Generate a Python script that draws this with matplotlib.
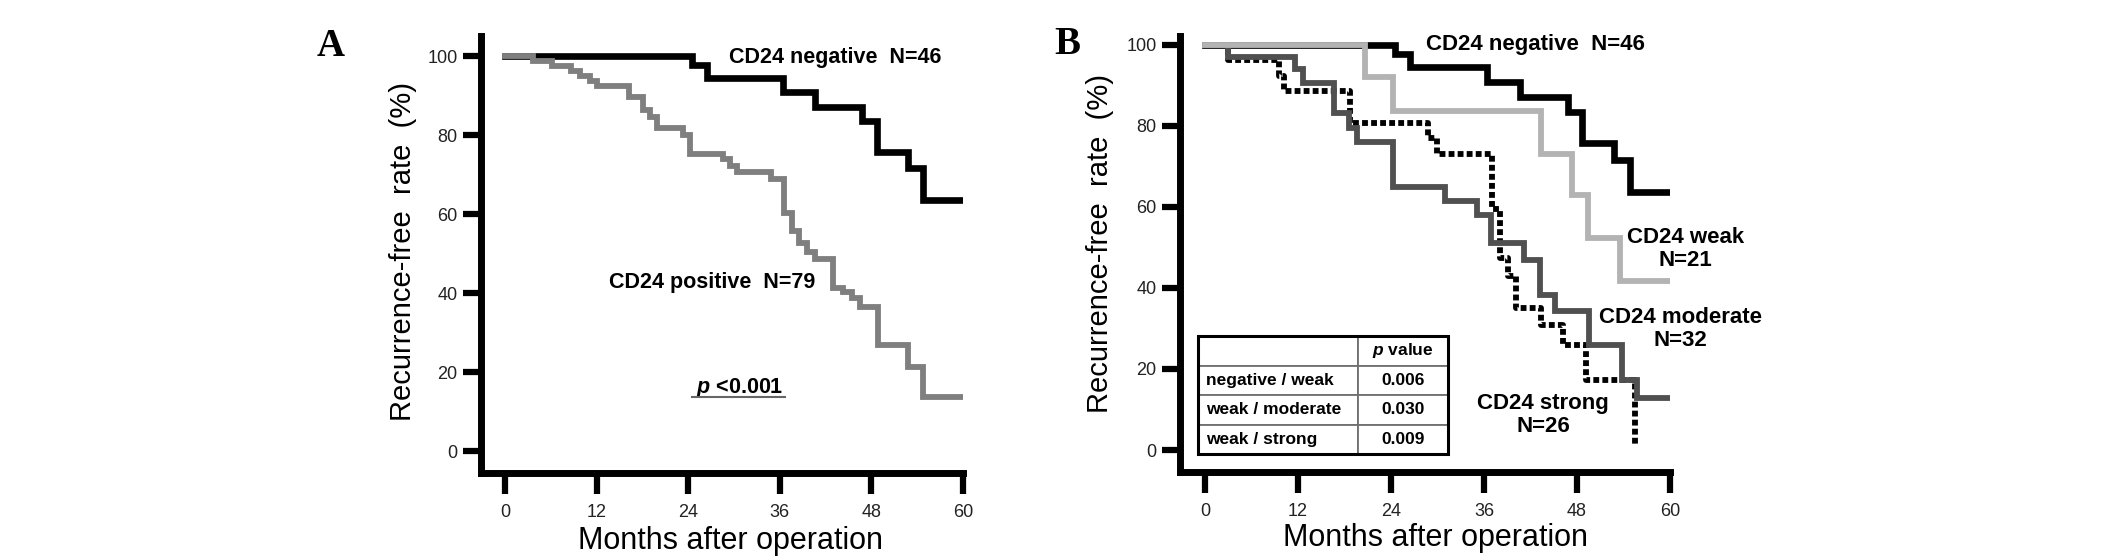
import numpy as np
import matplotlib as mpl
mpl.use('Agg')
import matplotlib.pyplot as plt
from matplotlib.lines import Line2D
from matplotlib.patches import Rectangle
from matplotlib.transforms import IdentityTransform

mpl.rcParams['font.family'] = 'Liberation Sans'
mpl.rcParams['mathtext.fontset'] = 'custom'
mpl.rcParams['mathtext.it'] = 'Liberation Sans:italic:bold'
mpl.rcParams['mathtext.rm'] = 'Liberation Sans:bold'
mpl.rcParams['mathtext.bf'] = 'Liberation Sans:bold'

# months after operation / recurrence-free rate (%)
neg_t = [0, 24.5, 26.5, 36.4, 40.6, 46.8, 48.7, 52.8, 54.8, 60]
neg_s = [100, 97.8, 94.5, 90.8, 87.2, 83.5, 75.8, 71.6, 63.6, 63.6]

pos_t = [0, 3.7, 6.1, 8.7, 9.8, 11.1, 12.0, 16.2, 18.1, 19.0, 19.9, 23.3,
         24.3, 28.6, 29.5, 30.4, 34.8, 36.5, 37.6, 38.5, 39.6, 40.6, 43.0,
         44.3, 45.4, 46.5, 48.9, 52.8, 54.8, 60]
pos_s = [100, 98.7, 97.5, 96.2, 94.9, 93.7, 92.4, 89.6, 86.3, 84.5, 81.9, 80.0,
         75.3, 74.0, 72.3, 70.6, 68.8, 60.2, 55.6, 52.6, 50.5, 48.5, 41.4,
         40.3, 38.7, 36.4, 26.8, 21.3, 13.6, 13.6]

weak_t = [0, 20.6, 24.2, 43.3, 47.4, 49.4, 53.5, 60]
weak_s = [100, 92.0, 83.8, 73.0, 63.0, 52.3, 41.8, 41.8]

mod_t = [0, 2.9, 11.6, 12.7, 16.7, 18.6, 19.6, 24.3, 31.0, 35.1, 36.9, 41.1,
         43.2, 45.2, 49.5, 53.8, 55.7, 60]
mod_s = [100, 97.0, 94.0, 90.6, 83.2, 79.5, 76.0, 65.0, 61.5, 58.0, 51.0, 46.9,
         38.3, 34.2, 25.9, 17.3, 12.8, 12.8]

strong_t = [0, 2.9, 9.5, 10.2, 18.7, 28.8, 29.9, 37.0, 38.1, 39.1, 40.1, 43.4,
            46.2, 49.2, 55.5]
strong_s = [100, 96.2, 92.3, 88.5, 80.8, 76.9, 73.1, 59.5, 47.5, 43.0, 35.0, 30.9,
            25.9, 17.3, 1.0]

pval_rows = ['negative / weak', 'weak / moderate', 'weak / strong']
pval_vals = ['0.006', '0.030', '0.009']

xticks = [0, 12, 24, 36, 48, 60]
yticks = [0, 20, 40, 60, 80, 100]

W, H = 2126, 558
fig = plt.figure(figsize=(W / 100, H / 100), dpi=100)


def style_axes(ax, xlim, ylim):
    ax.set_xlim(*xlim)
    ax.set_ylim(*ylim)
    for side in ['top', 'right']:
        ax.spines[side].set_visible(False)
    for side in ['left', 'bottom']:
        ax.spines[side].set_linewidth(5)
        ax.spines[side].set_capstyle('projecting')
    ax.set_xticks(xticks)
    ax.set_yticks(yticks)
    ax.tick_params(axis='y', length=13, width=4.5, pad=4, labelsize=13,
                   labelcolor='#222222')
    ax.tick_params(axis='x', length=15, width=4.5, pad=7, labelsize=13,
                   labelcolor='#222222')
    ax.set_xlabel('Months after operation', fontsize=22, va='center')
    ax.set_ylabel('Recurrence-free  rate  (%)', fontsize=21, va='center')
    ax.patch.set_alpha(0)


# Panel A
axA = fig.add_axes([481 / W, (H - 473) / H, 482 / W, 437 / H])
style_axes(axA, (-3.14, 60), (-5.57, 105.1))
axA.step(neg_t, neg_s, where='post', color='black', lw=4.8,
         solid_joinstyle='miter', zorder=3)
axA.step(pos_t, pos_s, where='post', color='#7f7f7f', lw=4.2,
         solid_joinstyle='miter', zorder=4)
axA.xaxis.set_label_coords(0.517, -0.156)
axA.yaxis.set_label_coords(-0.162, 0.507)
axA.text(43.2, 99.7, 'CD24 negative  N=46', fontsize=15.5, fontweight='bold',
         ha='center', va='center')
axA.text(27.2, 42.8, 'CD24 positive  N=79', fontsize=15.5, fontweight='bold',
         ha='center', va='center')
ptxt = axA.text(30.7, 16.0, '$p$ <0.001', fontsize=15.5, fontweight='bold',
                ha='center', va='center')

# Panel B
axB = fig.add_axes([1180 / W, (H - 472) / H, 490 / W, 436 / H])
style_axes(axB, (-3.23, 60), (-5.43, 102.2))
axB.step(neg_t, neg_s, where='post', color='black', lw=4.8,
         solid_joinstyle='miter', zorder=2)
axB.step(strong_t, strong_s, where='post', color='black', lw=4.2,
         linestyle=(0, (1.0, 0.55)), dash_capstyle='butt', zorder=3)
axB.step(mod_t, mod_s, where='post', color='#505050', lw=4.2,
         solid_joinstyle='miter', zorder=4)
axB.step(weak_t, weak_s, where='post', color='#b3b3b3', lw=4.2,
         solid_joinstyle='miter', zorder=5)
axB.xaxis.set_label_coords(0.522, -0.151)
axB.yaxis.set_label_coords(-0.163, 0.525)
axB.text(42.7, 100.0, 'CD24 negative  N=46', fontsize=16, fontweight='bold',
         ha='center', va='center')
axB.text(62.0, 49.6, 'CD24 weak\nN=21', fontsize=16, fontweight='bold',
         ha='center', va='center', linespacing=1.15)
axB.text(61.4, 29.8, 'CD24 moderate\nN=32', fontsize=16, fontweight='bold',
         ha='center', va='center', linespacing=1.15)
axB.text(43.6, 8.6, 'CD24 strong\nN=26', fontsize=16, fontweight='bold',
         ha='center', va='center', linespacing=1.15)

# p-value table
tb_box = [18 / 490, 18 / 436, 250 / 490, 118 / 436]
tab = axB.table(cellText=[[r, v] for r, v in zip(pval_rows, pval_vals)],
                colLabels=['', '$p$ value'], colWidths=[0.64, 0.36],
                cellLoc='center', bbox=tb_box)
tab.auto_set_font_size(False)
tab.set_fontsize(12.5)
tab.set_zorder(6)
for (r, c), cell in tab.get_celld().items():
    cell.set_edgecolor('#707070')
    cell.set_linewidth(1.3)
    cell.set_facecolor('white')
    cell.get_text().set_fontweight('bold')
    if c == 0:
        cell.get_text().set_horizontalalignment('left')
        cell.PAD = 0.05
axB.add_patch(Rectangle((tb_box[0], tb_box[1]), tb_box[2], tb_box[3],
                        transform=axB.transAxes, fill=False, lw=2.2,
                        edgecolor='black', zorder=7))

fig.text(331 / W, 1 - 47 / H, 'A', family='Liberation Serif', fontweight='bold',
         fontsize=28, ha='center', va='center')
fig.text(1067 / W, 1 - 45 / H, 'B', family='Liberation Serif', fontweight='bold',
         fontsize=28, ha='center', va='center')

# underline under the p-value of panel A
fig.canvas.draw()
bb = ptxt.get_window_extent(fig.canvas.get_renderer())
fig.add_artist(Line2D([bb.x0 - 4, bb.x1 + 2], [bb.y0 + 3, bb.y0 + 3],
                      transform=IdentityTransform(), color='#666666', lw=1.5))

fig.savefig('out.png', dpi=100)
